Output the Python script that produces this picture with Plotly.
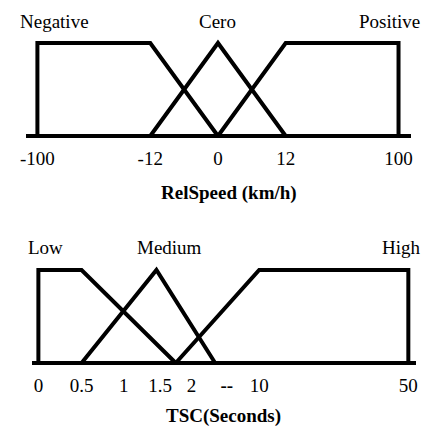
import numpy as np
import plotly.graph_objects as go

# ---------------- data ----------------
# Top panel: RelSpeed (km/h)
rel_tick_values = [-100, -12, 0, 12, 100]
rel_tick_labels = ["-100", "-12", "0", "12", "100"]
rel_sets = ["Negative", "Cero", "Positive"]
neg_x = [-100, -100, -12, 0]
neg_y = [0, 1, 1, 0]
cero_x = [-12, 0, 12]
cero_y = [0, 1, 0]
pos_x = [0, 12, 100, 100]
pos_y = [0, 1, 1, 0]

# Bottom panel: TSC (Seconds)
tsc_tick_values = [0, 0.5, 1, 1.5, 2, 10, 50]
tsc_tick_labels = ["0", "0.5", "1", "1.5", "2", "10", "50"]
tsc_break_label = "<b>--</b>"
tsc_sets = ["Low", "Medium", "High"]
low_x = [0, 0, 0.5, 1.75]
low_y = [0, 1, 1, 0]
med_x = [0.5, 1.45, 4.8]
med_y = [0, 1, 0]
high_x = [1.75, 10, 50, 50]
high_y = [0, 1, 1, 0]

# ---------------- layout helpers ----------------
W = H = 428
FONT = "Liberation Serif, Times New Roman, serif"
LW = 4

# piecewise axis (non-uniform spacing as in original): tick positions in px
rel_tick_pos = [32, 147, 216, 285, 400]
tsc_tick_pos = [33, 77, 120, 157, 189, 258, 410]
tsc_break_pos = 225

def rel_scale(v):
    return np.interp(v, rel_tick_values, rel_tick_pos)

def tsc_scale(v):
    return np.interp(v, tsc_tick_values, tsc_tick_pos)

def ydom(y0px, y1px, lo, hi):
    # y0px: pixel row of y=0, y1px: pixel row of y=1
    unit = y0px - y1px
    bottom = y0px - lo * unit
    top = y1px - (hi - 1) * unit
    return [1 - bottom / H, 1 - top / H]

fig = go.Figure()
line = dict(color="black", width=LW)

for xs, ys in [(neg_x, neg_y), (cero_x, cero_y), (pos_x, pos_y)]:
    fig.add_trace(go.Scatter(x=rel_scale(xs), y=ys, mode="lines", line=line,
                             xaxis="x", yaxis="y", showlegend=False, hoverinfo="skip"))
for xs, ys in [(low_x, low_y), (med_x, med_y), (high_x, high_y)]:
    fig.add_trace(go.Scatter(x=tsc_scale(xs), y=ys, mode="lines", line=line,
                             xaxis="x2", yaxis="y2", showlegend=False, hoverinfo="skip"))

ylo, yhi = -0.1, 1.15
common_x = dict(showgrid=False, zeroline=False, showline=False, ticks="",
                tickfont=dict(family=FONT, size=19, color="black"), fixedrange=True)
common_y = dict(range=[ylo, yhi], showgrid=False, showticklabels=False, ticks="",
                zeroline=True, zerolinecolor="black", zerolinewidth=LW, showline=False,
                fixedrange=True)

fig.update_layout(
    width=W, height=H,
    margin=dict(l=0, r=0, t=0, b=0),
    paper_bgcolor="white", plot_bgcolor="white",
    xaxis=dict(domain=[20 / W, 413 / W], range=[20, 413], anchor="y",
               tickvals=rel_tick_pos, ticktext=rel_tick_labels, **common_x),
    yaxis=dict(domain=ydom(136, 43, ylo, yhi), anchor="x", **common_y),
    xaxis2=dict(domain=[27 / W, 418 / W], range=[27, 418], anchor="y2",
                tickvals=tsc_tick_pos[:5] + [tsc_break_pos] + tsc_tick_pos[5:],
                ticktext=tsc_tick_labels[:5] + [tsc_break_label] + tsc_tick_labels[5:],
                **common_x),
    yaxis2=dict(domain=ydom(363, 270, ylo, yhi), anchor="x2", **common_y),
)

lab_font = dict(family=FONT, size=19, color="black")
annos = [
    dict(text=rel_sets[0], x=12 / W, xanchor="left", y=1 - 21 / H),
    dict(text=rel_sets[1], x=216 / W, xanchor="center", y=1 - 21 / H),
    dict(text=rel_sets[2], x=424 / W, xanchor="right", y=1 - 21 / H),
    dict(text="<b>RelSpeed (km/h)</b>", x=227 / W, xanchor="center", y=1 - 193 / H),
    dict(text=tsc_sets[0], x=20 / W, xanchor="left", y=1 - 247 / H),
    dict(text=tsc_sets[1], x=167 / W, xanchor="center", y=1 - 247 / H),
    dict(text=tsc_sets[2], x=425 / W, xanchor="right", y=1 - 247 / H),
    dict(text="<b>TSC(Seconds)</b>", x=222 / W, xanchor="center", y=1 - 416 / H),
]
for a in annos:
    fig.add_annotation(xref="paper", yref="paper", yanchor="middle", showarrow=False,
                       font=lab_font, **a)

fig.write_html("out.html",
               config={"displayModeBar": False, "staticPlot": True},
               post_script="document.body.style.margin='0';document.body.style.overflow='hidden';")
